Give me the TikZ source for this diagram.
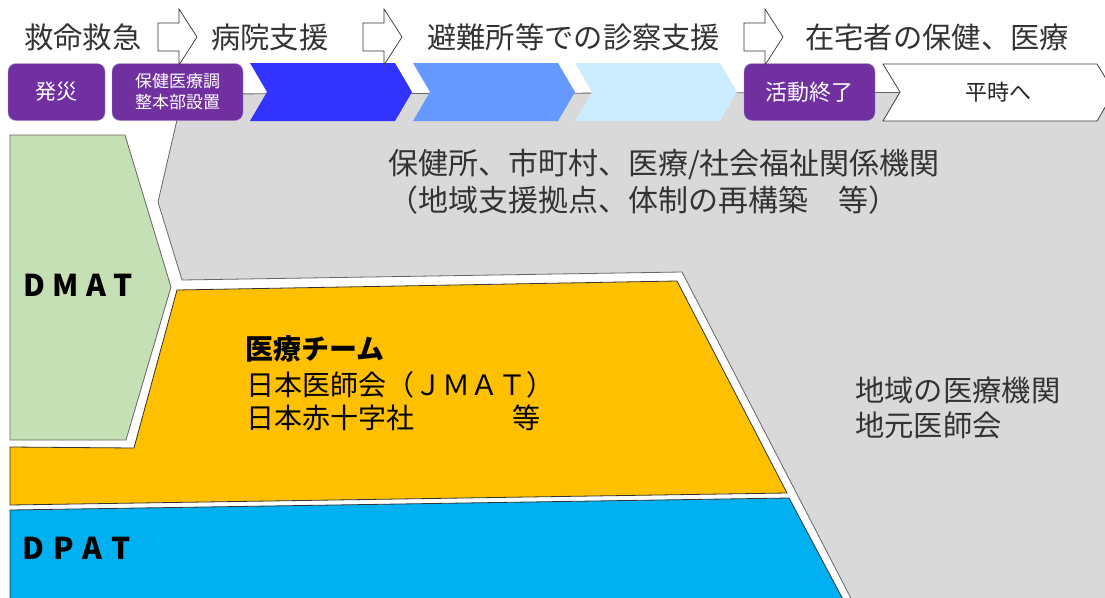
\documentclass[tikz,border=0pt]{standalone}
\usepackage{fontspec}
\setmainfont{Noto Sans CJK JP}
\usepackage{tikz}
\usetikzlibrary{calc}
\definecolor{graybg}{HTML}{D9D9D9}
\definecolor{dmatgreen}{HTML}{C5E0B4}
\definecolor{teamyellow}{HTML}{FFC000}
\definecolor{dpatblue}{HTML}{00B0F0}
\definecolor{purplebox}{HTML}{7030A0}
\definecolor{chevA}{HTML}{3333FF}
\definecolor{chevB}{HTML}{6699FF}
\definecolor{chevC}{HTML}{CCECFF}

\begin{document}
\begin{tikzpicture}[x=1pt,y=-1pt,
	stage/.style={anchor=west,inner sep=0pt,text=black!80,font=\fontsize{29.3}{34}\selectfont},
	phase/.style={fill=purplebox,draw=purplebox!55!white,rounded corners=8pt,text=white,inner sep=0pt,minimum height=57pt},
	team/.style={anchor=west,inner sep=0pt,font=\fontsize{28}{32}\selectfont},
	tag/.style={anchor=west,inner sep=0pt,font=\bfseries\fontsize{30}{34}\selectfont}]
	\useasboundingbox (0,0) rectangle (1105,597);
	\clip (0,0) rectangle (1105,597);
	\fill[white] (0,0) rectangle (1105,597);

	%the gray area
	\filldraw[fill=graybg,draw=black!60,line width=0.8pt] (183,94) -- (1120,92) -- (1120,610) -- (857,610) -- (682,272) -- (182,280) -- (158,202) -- cycle;

	%DMAT
	\filldraw[fill=dmatgreen,draw=black!60,line width=0.8pt] (10,135) -- (125,135) -- (171,287) -- (126,440) -- (10,440) -- cycle;
	\node[tag] (dmat) at (23,285) {D\hspace{7.5pt}M\hspace{7.5pt}A\hspace{7.5pt}T};

	%medical teams
	\filldraw[fill=teamyellow,draw=black!80,line width=0.8pt] (177,290) -- (677,281) -- (787,493) -- (10,505) -- (10,447) -- (134,448) -- cycle;
	\node[team,font=\bfseries\fontsize{28}{32}\selectfont] (iryo) at (245,349) {医療チーム};
	\node[team] (jmat) at (246,385) {日本医師会（ＪＭＡＴ）};
	\node[team] (jrc) at (246,418) {日本赤十字社\hspace{3.5em}等};

	%DPAT
	\filldraw[fill=dpatblue,draw=black!80,line width=0.8pt] (10,510) -- (789,498) -- (846,605) -- (10,605) -- cycle;
	\node[tag] (dpat) at (22,548) {D\hspace{9pt}P\hspace{9pt}A\hspace{9pt}T};

	%local bodies
	\node[stage,font=\fontsize{30}{34}\selectfont] (kikan) at (388,165) {保健所、市町村、医療/社会福祉関係機関};
	\node[stage,font=\fontsize{30}{34}\selectfont] (kyoten) at (388,200) {（地域支援拠点、体制の再構築　等）};
	\node[stage] (chiiki) at (855,390) {地域の医療機関};
	\node[stage] (ishikai) at (855,425) {地元医師会};

	%time line
	\foreach \x/\c in {250/chevA,413/chevB,575/chevC}
		\fill[\c] (\x,63) -- ++(145,0) -- ++(17,29) -- ++(-17,29) -- ++(-145,0) -- ++(17,-29) -- cycle;
	\filldraw[fill=white,draw=black!75,line width=0.8pt] (883,64) -- (1097,64) -- (1114,92) -- (1097,121) -- (883,121) -- (900,92) -- cycle;
	\node[inner sep=0pt,text=black!85,font=\fontsize{22}{26}\selectfont] (heiji) at (998,92) {平時へ};
	\node[phase,minimum width=97pt,font=\fontsize{21}{24}\selectfont] (hassai) at (56.5,92) {発災};
	\node[phase,minimum width=131pt,align=center,font=\fontsize{17}{21}\selectfont] (honbu) at (177.5,92) {保健医療調\\整本部設置};
	\node[phase,minimum width=131pt,font=\fontsize{22}{26}\selectfont] (shuryo) at (809.5,92) {活動終了};

	%stages
	\node[stage] (kyumei) at (24,37) {救命救急};
	\node[stage] (byoin) at (211,37) {病院支援};
	\node[stage] (hinan) at (427,37) {避難所等での診察支援};
	\node[stage] (zaitaku) at (805,37) {在宅者の保健、医療};
	\foreach \x in {158,363,744}
		\filldraw[fill=white,draw=black!80,line width=0.7pt] (\x,23) -- ++(21,0) -- ++(0,-14) -- ++(18,28) -- ++(-18,28) -- ++(0,-14) -- ++(-21,0) -- cycle;
\end{tikzpicture}
\end{document}
